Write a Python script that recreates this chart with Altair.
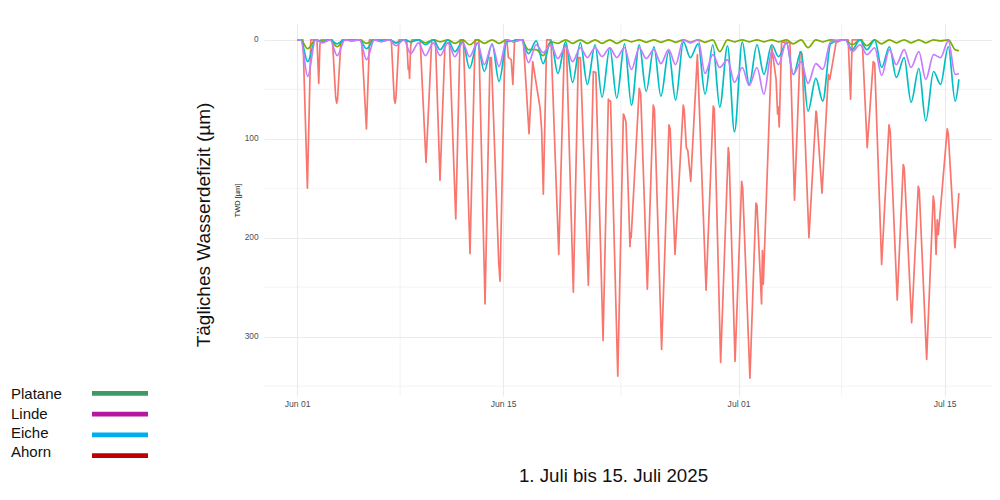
import altair as alt
import pandas as pd

# ---------------- data ----------------
# Ahorn: knots, time in days since 2025-06-01 00:00, TWD in µm
ahorn_t = [0.00,
           0.40, 0.70, 0.93,
           1.35, 1.47, 1.55, 1.62,
           2.40, 2.62, 2.69, 2.75, 2.97, 3.05,
           4.38, 4.71, 4.92,
           6.40, 6.60, 6.66, 6.72, 6.92,
           7.45, 7.55, 7.60, 7.64, 7.72, 7.80,
           8.36, 8.76, 9.15,
           9.40, 9.71, 10.05,
           10.35, 10.78, 11.07,
           11.30, 11.75, 12.09,
           12.35, 12.77, 13.11,
           13.20, 13.70, 13.79, 14.13,
           14.25, 14.36, 14.55, 14.66, 14.78,
           15.37, 15.76, 16.01, 16.51, 16.62, 16.73, 16.96,
           17.25, 17.78, 18.16,
           18.30, 18.77, 19.11,
           19.25, 19.79, 20.13, 20.25,
           20.30, 20.79, 21.15, 21.22,
           21.30, 21.79, 22.17,
           22.21, 22.35, 22.62, 22.66, 22.70, 23.25,
           23.35, 23.80, 24.20, 24.28,
           24.77, 25.27, 25.35,
           25.68, 26.24, 26.30, 26.45, 26.55, 26.75, 27.20,
           27.79, 28.28, 28.35,
           28.78, 29.30, 29.35,
           29.76, 30.21, 30.28,
           30.77, 31.18, 31.25,
           31.56, 31.62, 31.68, 32.25,
           32.55, 32.65, 32.70, 32.76, 32.92, 33.00,
           33.49, 33.80, 34.18,
           34.30, 34.78, 35.26,
           35.30, 35.67, 36.10, 36.20, 36.62, 37.00,
           37.45, 37.61, 37.72,
           38.40, 38.74, 39.15, 39.25,
           39.72, 40.22, 40.30,
           40.78, 41.19, 41.26,
           41.76, 42.21, 42.28,
           42.78, 43.23, 43.30, 43.42, 43.50, 43.57, 44.18, 44.25,
           44.70, 44.97]
ahorn_v = [0,
           0, 150, 0,
           0, 44, 5, 0,
           0, 58, 64, 60, 3, 0,
           0, 90, 0,
           0, 60, 64, 58, 0,
           0, 30, 27, 39, 6, 0,
           0, 124, 0,
           0, 142, 4,
           3, 181, 0,
           0, 216, 0,
           0, 267, 18,
           18, 225, 244, 0,
           0, 18, 20, 45, 0,
           0, 95, 22, 69, 92, 156, 0,
           0, 217, 5,
           5, 255, 18,
           18, 248, 32, 33,
           33, 304, 60, 62,
           62, 340, 75,
           76, 83, 209, 195, 200, 49,
           55, 252, 66, 70,
           313, 86, 90,
           217, 66, 70, 109, 112, 143, 15,
           253, 67, 70,
           326, 109, 115,
           325, 143, 150,
           342, 165, 167,
           267, 213, 247, 7,
           40, 75, 68, 88, 3, 2,
           3, 162, 12,
           14, 200, 72,
           74, 155, 35, 40, 3, 0,
           0, 60, 0,
           0, 109, 22, 24,
           227, 86, 92,
           263, 126, 130,
           286, 148, 152,
           323, 158, 165, 217, 182, 197, 90, 95,
           210, 155]

# Daily values (day 0 = Jun 01): night value (~06:00) and afternoon maximum (~17:00)
platane_night = [0]*16 + [10, 2] + [0]*27
platane_peak = [9, 1.5, 7, 0.5, 3.5, 1, 3, 2, 3, 2, 3.5, 5, 3.5, 3.5, 2, 10, 16, 3.5, 3.5, 3.5,
                3.5, 3.5, 2, 2.5, 2.5, 2.5, 2.5, 2.5, 12, 2, 2, 2, 2, 4, 8, 2, 0.5, 5, 6, 4,
                3, 3, 3, 1, 10]
eiche_night = [0, 0, 0, 0, 0, 0, 0, 0, 0, 0, 0, 2, 3, 4, 2, 0, 1, 1, 2, 3, 5, 8, 4, 5, 7,
               12, 2, 4, 5, 6, 2, 5, 5, 3, 12, 39, 4, 0, 0, 0, 7, 18, 29, 32, 7]
eiche_peak = [22, 2, 4, 0.5, 9, 1, 3, 2, 5, 10, 12, 29, 32, 42, 1, 14, 24, 34, 43, 45, 58, 59,
              66, 52, 57, 61, 18, 55, 68, 93, 45, 35, 17, 35, 72, 62, 1, 10, 10, 28, 38, 63,
              82, 45, 62]
linde_night = [0, 0, 0, 0, 0, 0, 0, 0, 3, 3, 3, 3, 3, 5, 0, 0, 5, 5, 7, 8, 8, 8, 8, 8, 10,
               10, 0, 0, 15, 20, 28, 28, 12, 2, 22, 24, 2, 0, 5, 8, 10, 10, 12, 15, 1]
linde_peak = [37, 3, 16, 1, 20, 2, 6, 14, 16, 16, 17, 17, 25, 27, 2, 23, 13, 19, 22, 18, 17,
              18, 30, 19, 24, 25, 3, 34, 28, 43, 46, 55, 25, 35, 44, 30, 1, 12, 15, 36, 25,
              28, 40, 18, 35]
last_values = {"Platane": 11, "Eiche": 40, "Linde": 34}
last_day = 44.97

series_colors = {"Ahorn": "#F8766D", "Platane": "#7CAE00", "Eiche": "#00BFC4", "Linde": "#C77CFF"}

legend_labels = ["Platane", "Linde", "Eiche", "Ahorn"]
legend_colors = ["#3D9A65", "#B5179E", "#00AEEF", "#C00000"]

x_major = [(2025, 6, 1), (2025, 6, 15), (2025, 7, 1), (2025, 7, 15)]
x_minor = ["2025-06-08", "2025-06-23", "2025-07-08"]
y_major = [0, 100, 200, 300]
y_minor = [50, 150, 250, 350]

# ---------------- build tables ----------------
base = pd.Timestamp("2025-06-01")


def to_time(days):
    return base + pd.to_timedelta(days, unit="D")


def daily_frame(name, night, peak):
    ts, vs = [0.0], [0.0]
    for d in range(len(peak)):
        ts += [d + 0.25, d + 0.72]
        vs += [night[d], peak[d]]
    ts.append(last_day)
    vs.append(last_values[name])
    return pd.DataFrame({"t": to_time(pd.Series(ts)), "v": vs})


frames = {
    "Ahorn": pd.DataFrame({"t": to_time(pd.Series(ahorn_t)), "v": ahorn_v}),
    "Platane": daily_frame("Platane", platane_night, platane_peak),
    "Eiche": daily_frame("Eiche", eiche_night, eiche_peak),
    "Linde": daily_frame("Linde", linde_night, linde_peak),
}
interp = {"Ahorn": "linear", "Platane": "monotone", "Eiche": "monotone", "Linde": "monotone"}

# ---------------- scales / axes ----------------
W, H = 728, 373
FONT = "Liberation Sans"

x_scale = alt.Scale(domain=[alt.DateTime(year=2025, month=5, date=29, hours=18),
                            alt.DateTime(year=2025, month=7, date=18, hours=5, minutes=17)])
y_scale = alt.Scale(domain=[-17, 360], reverse=True, nice=False, zero=False)

x_axis = alt.Axis(values=[alt.DateTime(year=y, month=m, date=d) for (y, m, d) in x_major],
                  format="%b %d", title=None, ticks=False, domain=False,
                  labelFont=FONT, labelFontSize=8.6, labelColor="#4D4D4D", labelPadding=3,
                  grid=True, gridColor="#EBEBEB", gridWidth=1.1)
y_axis = alt.Axis(values=y_major, title="TWD [µm]", ticks=False, domain=False,
                  labelFont=FONT, labelFontSize=8.3, labelColor="#4D4D4D", labelPadding=6,
                  grid=True, gridColor="#EBEBEB", gridWidth=1.1,
                  titleFont=FONT, titleFontSize=7.5, titleFontWeight="normal", titleColor="#1A1A1A",
                  titleAngle=270, titleAlign="center", titleBaseline="middle",
                  titleX=-26.5, titleY=177)

X = alt.X("t:T", scale=x_scale, axis=x_axis)
Y = alt.Y("v:Q", scale=y_scale, axis=y_axis)

layers = []
layers.append(alt.Chart(pd.DataFrame({"t": pd.to_datetime(x_minor)}))
              .mark_rule(color="#EBEBEB", strokeWidth=0.6).encode(x=X))
layers.append(alt.Chart(pd.DataFrame({"v": y_minor}))
              .mark_rule(color="#EBEBEB", strokeWidth=0.6).encode(y=Y))

for name in ["Ahorn", "Platane", "Eiche", "Linde"]:
    layers.append(alt.Chart(frames[name]).mark_line(color=series_colors[name], strokeWidth=1.7,
                                                     strokeJoin="round", clip=True,
                                                     interpolate=interp[name])
                  .encode(x=X, y=Y))

# big left title and bottom caption
layers.append(alt.Chart(pd.DataFrame({"s": ["Tägliches Wasserdefizit (µm)"]}))
              .mark_text(angle=270, font=FONT, fontSize=19, color="#111111",
                         align="center", baseline="alphabetic")
              .encode(text="s:N", x=alt.value(-54), y=alt.value(202)))
layers.append(alt.Chart(pd.DataFrame({"s": ["1. Juli bis 15. Juli 2025"]}))
              .mark_text(font=FONT, fontSize=18.7, color="#111111",
                         align="center", baseline="alphabetic")
              .encode(text="s:N", x=alt.value(349.5), y=alt.value(459)))

# manual legend (bottom left)
for i, (lab, col) in enumerate(zip(legend_labels, legend_colors)):
    layers.append(alt.Chart(pd.DataFrame({"s": [lab]}))
                  .mark_text(font=FONT, fontSize=15, color="#111111", align="left",
                             baseline="alphabetic")
                  .encode(text="s:N", x=alt.value(-253), y=alt.value(376.3 + i * 19.3)))
    layers.append(alt.Chart(pd.DataFrame({"s": [lab]}))
                  .mark_rule(color=col, strokeWidth=4.7)
                  .encode(x=alt.value(-172), x2=alt.value(-116),
                          y=alt.value(370.3 + i * 20.8)))

chart = (alt.layer(*layers)
         .properties(width=W, height=H, autosize=alt.AutoSizeParams(type="none"),
                     padding={"left": 256, "top": 15, "right": 0, "bottom": 100},
                     background="white")
         .configure_view(strokeWidth=0, stroke="transparent"))

chart.save("out.html", embed_options={"renderer": "svg", "actions": False})
